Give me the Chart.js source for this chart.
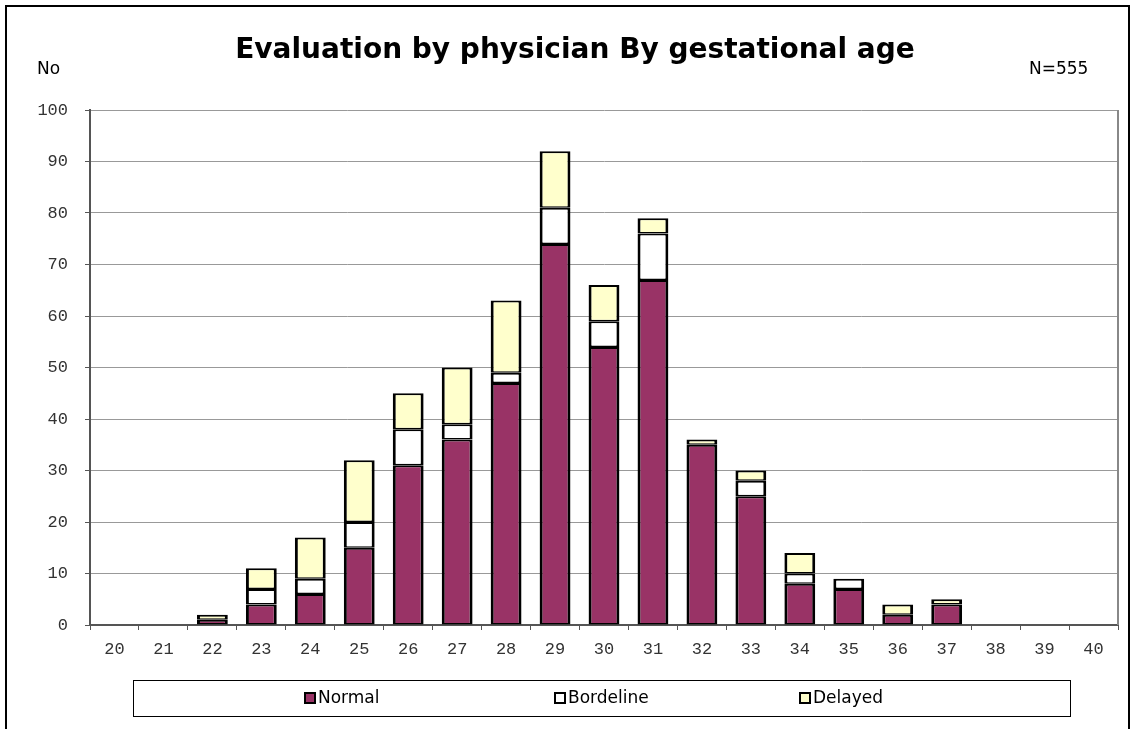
<!DOCTYPE html>
<html>
<head>
<meta charset="utf-8">
<script src="https://cdn.jsdelivr.net/npm/chart.js@4/dist/chart.umd.min.js"></script>
<style>
  html, body { margin: 0; padding: 0; background: #fff; }
  #wrap { width: 1134px; height: 729px; }
</style>
</head>
<body>
<div id="wrap"><canvas id="evalChart" width="1134" height="729"></canvas></div>
<script>
// data
var weeks = ['20', '21', '22', '23', '24', '25', '26', '27', '28', '29', '30',
             '31', '32', '33', '34', '35', '36', '37', '38', '39', '40'];
var normal     = [0, 0, 1, 4, 6, 15, 31, 36, 47, 74, 54, 67, 35, 25, 8, 7, 2, 4, 0, 0, 0];
var borderline = [0, 0, 0, 3, 3, 5, 7, 3, 2, 7, 5, 9, 0, 3, 2, 2, 0, 0, 0, 0, 0];
var delayed    = [0, 0, 1, 4, 8, 12, 7, 11, 14, 11, 7, 3, 1, 2, 4, 0, 2, 1, 0, 0, 0];
var seriesNames = ['Normal', 'Bordeline', 'Delayed'];
var seriesColors = ['#993366', '#ffffff', '#ffffcc'];
var yTicks = [0, 10, 20, 30, 40, 50, 60, 70, 80, 90, 100];

var titleText = 'Evaluation by physician By gestational age';
var yLabel = 'No';
var nLabel = 'N=555';

// zero segments are left out so empty weeks show no bar
function noZero(arr) {
    return arr.map(function (v) { return v === 0 ? null : v; });
}

var decorations = {
    id: 'decorations',
    afterDraw: function (chart) {
        var ctx = chart.ctx;
        var area = chart.chartArea;
        ctx.save();

        // outer frame
        ctx.strokeStyle = '#000';
        ctx.lineWidth = 2;
        ctx.beginPath();
        ctx.moveTo(6, 729);
        ctx.lineTo(6, 6);
        ctx.lineTo(1129, 6);
        ctx.lineTo(1129, 729);
        ctx.stroke();

        // right edge of plot area
        ctx.strokeStyle = '#888';
        ctx.lineWidth = 2;
        ctx.beginPath();
        ctx.moveTo(area.right, area.top);
        ctx.lineTo(area.right, area.bottom);
        ctx.stroke();

        // title and side texts
        ctx.fillStyle = '#000';
        ctx.textBaseline = 'alphabetic';
        ctx.textAlign = 'center';
        ctx.font = 'bold 28px "DejaVu Sans"';
        ctx.fillText(titleText, 575, 58);
        ctx.font = '17px "DejaVu Sans"';
        ctx.textAlign = 'left';
        ctx.fillText(yLabel, 37, 74);
        ctx.fillText(nLabel, 1029, 74);

        // legend box
        ctx.strokeStyle = '#000';
        ctx.lineWidth = 1;
        ctx.strokeRect(133.5, 680.5, 937, 36);
        var markerX = [305, 555, 800];
        ctx.font = '17px "DejaVu Sans"';
        ctx.textBaseline = 'middle';
        chart.data.datasets.forEach(function (ds, i) {
            ctx.fillStyle = ds.backgroundColor;
            ctx.fillRect(markerX[i], 693, 10, 10);
            ctx.strokeStyle = '#000';
            ctx.lineWidth = 2;
            ctx.strokeRect(markerX[i], 693, 10, 10);
            ctx.fillStyle = '#000';
            ctx.fillText(ds.label, markerX[i] + 13, 699);
        });
        ctx.restore();
    }
};

var ctxEval = document.getElementById('evalChart').getContext('2d');
var evalChart = new Chart(ctxEval, {
    type: 'bar',
    data: {
        labels: weeks,
        datasets: [normal, borderline, delayed].map(function (arr, i) {
            return {
                label: seriesNames[i],
                data: noZero(arr),
                backgroundColor: seriesColors[i],
                borderColor: '#000',
                borderWidth: { top: 2, bottom: 1.5, left: 3, right: 3 },
                borderSkipped: false,
                inflateAmount: 0,
                categoryPercentage: 1,
                barPercentage: 0.63
            };
        })
    },
    options: {
        responsive: false,
        animation: false,
        layout: { padding: { left: 0, right: 16, top: 110, bottom: 64 } },
        plugins: {
            legend: { display: false },
            title: { display: false },
            tooltip: { enabled: false }
        },
        scales: {
            x: {
                stacked: true,
                offset: true,
                grid: { offset: true, drawOnChartArea: false, color: '#555', tickLength: 5 },
                border: { color: '#555', width: 2 },
                ticks: {
                    color: '#333',
                    font: { family: '"Liberation Mono"', size: 17 },
                    padding: 9,
                    maxRotation: 0,
                    autoSkip: false
                },
                afterFit: function (scale) { scale.height = 40; }
            },
            y: {
                stacked: true,
                min: 0,
                max: 100,
                afterBuildTicks: function (scale) {
                    scale.ticks = yTicks.map(function (v) { return { value: v }; });
                },
                grid: { color: '#999', lineWidth: 1, tickLength: 5, tickColor: '#555' },
                border: { color: '#555', width: 2 },
                ticks: {
                    color: '#333',
                    font: { family: '"Liberation Mono"', size: 17 },
                    padding: 17
                },
                afterFit: function (scale) { scale.width = 90; }
            }
        }
    },
    plugins: [decorations]
});
</script>
</body>
</html>
